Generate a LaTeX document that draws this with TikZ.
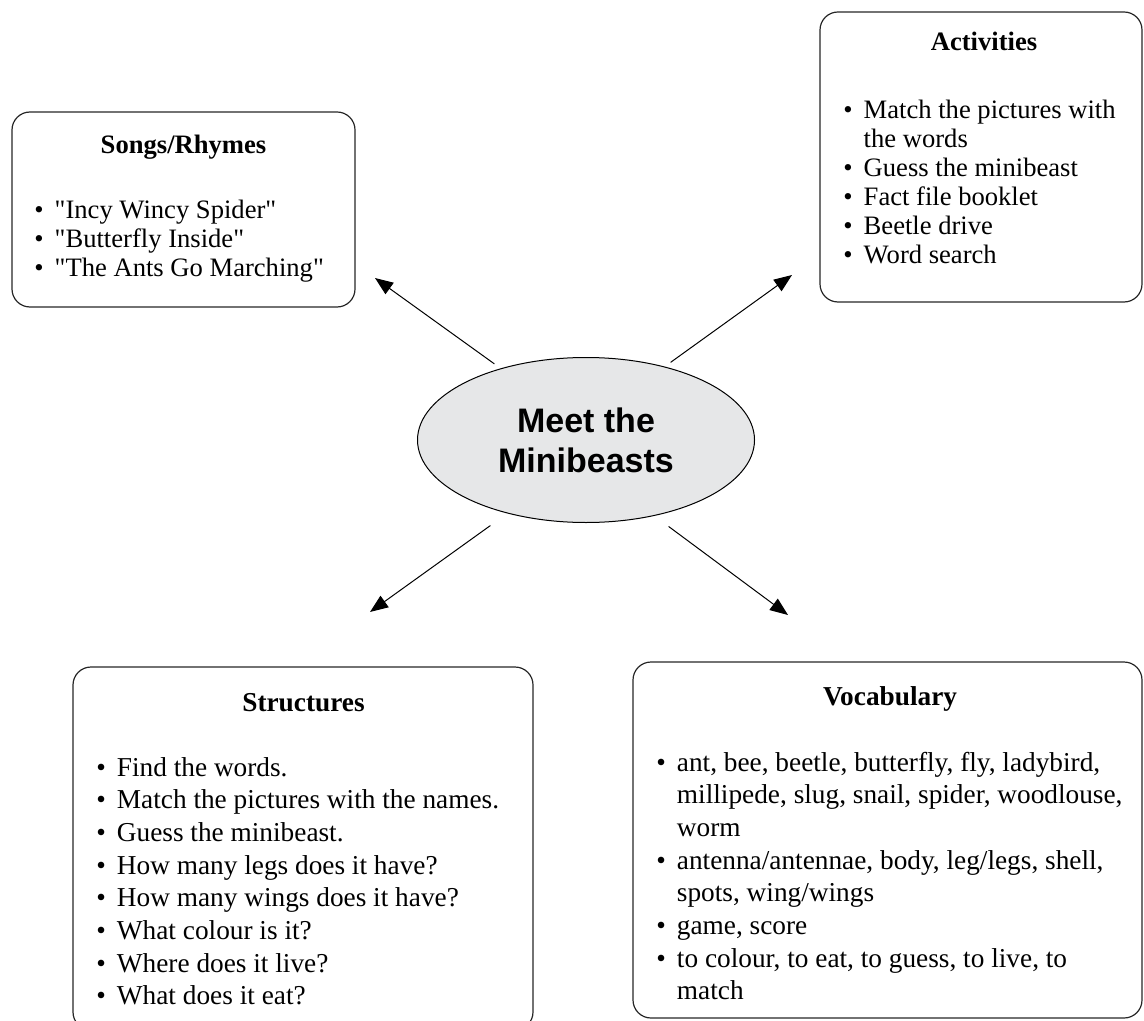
\documentclass[tikz,border=0pt]{standalone}
\usepackage{fontspec}
\setmainfont{Liberation Serif}
\newfontfamily\headfont{Liberation Sans}
\usetikzlibrary{shapes.geometric}
\usetikzlibrary{arrows.meta}
\definecolor{mbgray}{RGB}{230,231,232}
\tikzset{
  topic/.style={draw=black!85, line width=0.6pt, rounded corners=9pt, inner sep=0pt},
  title/.style={font=\fontsize{13.3}{14.5}\selectfont\bfseries, anchor=base, inner sep=0pt},
  bigtitle/.style={font=\fontsize{13.65}{16.4}\selectfont\bfseries, anchor=base, inner sep=0pt},
  smalllist/.style={font=\fontsize{13.3}{14.5}\selectfont, anchor=base west, inner sep=0pt},
  biglist/.style={font=\fontsize{13.65}{16.35}\selectfont, anchor=base west, inner sep=0pt},
}
\newcommand{\bulletlist}[1]{\begin{tabular}[t]{@{}l@{\hspace{5.5pt}}l@{}}#1\end{tabular}}
\newcommand{\qt}{\textquotedbl}

\begin{document}
\begin{tikzpicture}[x=0.5pt, y=-0.5pt, line cap=round, line join=round, >={Triangle[length=9pt,width=7pt]}]
  \useasboundingbox (0,0) rectangle (1144,1021);
  \clip (0,0) rectangle (1144,1021);
  % centre
  \node[ellipse, draw, line width=0.5pt, fill=mbgray, minimum width=168.5pt, minimum height=82.5pt, align=center, font=\headfont\bfseries\fontsize{17}{20}\selectfont] (mb) at (586,440) {Meet the\\Minibeasts};
  % boxes
  \node[topic, minimum width=171.5pt, minimum height=97.5pt] (songs) at (183.5,209.5) {};
  \node[topic, minimum width=161pt, minimum height=145pt] (act) at (981,157) {};
  \node[topic, minimum width=230pt, minimum height=181.5pt] (struct) at (303,848.5) {};
  \node[topic, minimum width=254.5pt, minimum height=178pt] (vocab) at (887.5,840) {};
  % titles
  \node[title] (songs title) at (183.5,154) {Songs/Rhymes};
  \node[title] (act title) at (984,51) {Activities};
  \node[bigtitle] (struct title) at (303.5,711) {Structures};
  \node[bigtitle] (vocab title) at (890,705) {Vocabulary};
  % lists
  \node[smalllist] (songs list) at (34,219) {\bulletlist{
    \textbullet & \qt Incy Wincy Spider\qt\\
    \textbullet & \qt Butterfly Inside\qt\\
    \textbullet & \qt The Ants Go Marching\qt}};
  \node[smalllist] (act list) at (843,119) {\bulletlist{
    \textbullet & Match the pictures with\\
     & the words\\
    \textbullet & Guess the minibeast\\
    \textbullet & Fact file booklet\\
    \textbullet & Beetle drive\\
    \textbullet & Word search}};
  \node[biglist] (struct list) at (96,776) {\bulletlist{
    \textbullet & Find the words.\\
    \textbullet & Match the pictures with the names.\\
    \textbullet & Guess the minibeast.\\
    \textbullet & How many legs does it have?\\
    \textbullet & How many wings does it have?\\
    \textbullet & What colour is it?\\
    \textbullet & Where does it live?\\
    \textbullet & What does it eat?}};
  \node[biglist] (vocab list) at (656,771) {\bulletlist{
    \textbullet & ant, bee, beetle, butterfly, fly, ladybird,\\
     & millipede, slug, snail, spider, woodlouse,\\
     & worm\\
    \textbullet & antenna/antennae, body, leg/legs, shell,\\
     & spots, wing/wings\\
    \textbullet & game, score\\
    \textbullet & to colour, to eat, to guess, to live, to\\
     & match}};
  % arrows
  \coordinate (songs tip) at (375,278);
  \coordinate (act tip) at (792,275);
  \coordinate (struct tip) at (370,612);
  \coordinate (vocab tip) at (788,615);
  \draw [->, line width=0.5pt, shorten <=4pt] (mb.140) -- (songs tip);
  \draw [->, line width=0.5pt, shorten <=3.75pt] (mb.43) -- (act tip);
  \draw [->, line width=0.5pt, shorten <=10.5pt] (mb.223) -- (struct tip);
  \draw [->, line width=0.5pt, shorten <=9pt] (mb.312) -- (vocab tip);
\end{tikzpicture}
\end{document}
